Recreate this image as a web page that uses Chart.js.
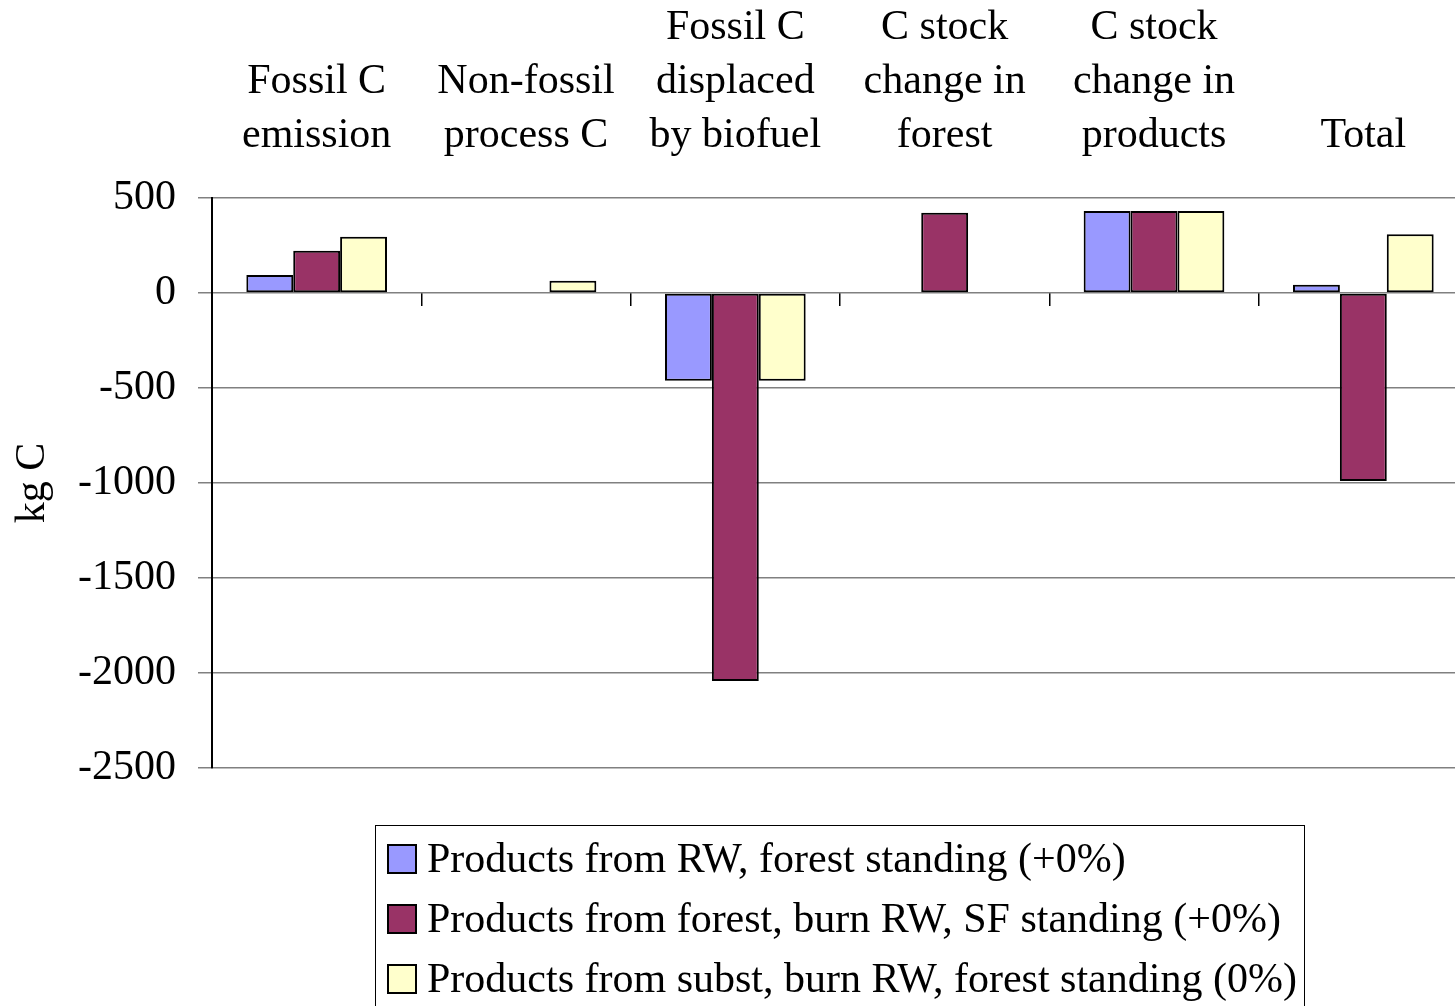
<!DOCTYPE html>
<html>
<head>
<meta charset="utf-8">
<script src="https://cdn.jsdelivr.net/npm/chart.js@4.4.1/dist/chart.umd.min.js"></script>
<style>
  html, body { margin: 0; padding: 0; background: #ffffff; overflow: hidden; }
  #wrap { position: relative; width: 1470px; height: 1006px; }
</style>
</head>
<body>
<div id="wrap"><canvas id="chart"></canvas></div>
<script>
// Carbon balance per scenario (kg C)
const categories = [
  ["Fossil C", "emission"],
  ["Non-fossil", "process C"],
  ["Fossil C", "displaced", "by biofuel"],
  ["C stock", "change in", "forest"],
  ["C stock", "change in", "products"],
  ["Total"]
];
const seriesNames = [
  "Products from RW, forest standing (+0%)",
  "Products from forest, burn RW, SF standing (+0%)",
  "Products from subst, burn RW, forest standing (0%)"
];
const rwForestStanding = [95, 0, -462, 0, 431, 44];
const forestBurnRW = [222, 0, -2042, 423, 431, -989];
const substBurnRW = [296, 65, -462, 0, 431, 309];
const yMin = -2500, yMax = 500, yStep = 500;

const FONT = "'Liberation Serif', 'Times New Roman', serif";
const colors = ["#9999FF", "#993366", "#FFFFCC"];

// Boxed legend below the plot, one entry per row
const boxedLegend = {
  id: 'boxedLegend',
  afterDraw(chart) {
    const ctx = chart.ctx;
    const left = 375.5, top = 825.5, right = 1304.5, bottom = 1040;
    ctx.save();
    ctx.strokeStyle = '#000000';
    ctx.lineWidth = 1;
    ctx.strokeRect(left, top, right - left, bottom - top);
    ctx.font = '42px ' + FONT;
    ctx.textBaseline = 'middle';
    chart.data.datasets.forEach((ds, i) => {
      const cy = 859 + i * 60;
      ctx.fillStyle = ds.backgroundColor;
      ctx.fillRect(388, cy - 14, 28, 28);
      ctx.strokeStyle = '#000000';
      ctx.lineWidth = 2;
      ctx.strokeRect(388, cy - 14, 28, 28);
      ctx.fillStyle = '#000000';
      ctx.fillText(ds.label, 427, cy + 2);
    });
    ctx.restore();
  }
};

new Chart(document.getElementById('chart'), {
  type: 'bar',
  data: {
    labels: categories,
    datasets: [
      { label: seriesNames[0], data: rwForestStanding, backgroundColor: colors[0] },
      { label: seriesNames[1], data: forestBurnRW, backgroundColor: colors[1] },
      { label: seriesNames[2], data: substBurnRW, backgroundColor: colors[2] }
    ].map(d => Object.assign(d, {
      borderColor: '#000000',
      borderWidth: 2,
      borderSkipped: false,
      categoryPercentage: 0.672,
      barPercentage: 1.0,
      xAxisID: 'x'
    }))
  },
  options: {
    responsive: true,
    maintainAspectRatio: false,
    animation: false,
    layout: { padding: { left: 0, right: 2, top: 0, bottom: 238 } },
    plugins: {
      legend: { display: false },
      tooltip: { enabled: false }
    },
    scales: {
      x: {
        type: 'category',
        position: 'top',
        offset: true,
        grid: { display: false, drawTicks: false, offset: true },
        border: { display: false },
        ticks: {
          color: '#000000',
          font: { family: FONT, size: 42, lineHeight: 1.286 },
          padding: 35,
          maxRotation: 0,
          minRotation: 0,
          autoSkip: false
        },
        afterFit(scale) { scale.height = 198; }
      },
      xZero: {
        type: 'category',
        position: { y: 0 },
        offset: true,
        grid: {
          display: true,
          offset: true,
          drawOnChartArea: false,
          drawTicks: true,
          tickLength: 13,
          color: '#000000',
          lineWidth: 1.5
        },
        border: { display: false },
        ticks: { display: false }
      },
      y: {
        type: 'linear',
        position: 'left',
        min: yMin,
        max: yMax,
        ticks: {
          stepSize: yStep,
          color: '#000000',
          font: { family: FONT, size: 42 },
          padding: 22,
          callback: v => String(v)
        },
        grid: {
          color: '#808080',
          lineWidth: 1.5,
          tickLength: 14,
          tickColor: '#808080'
        },
        border: { display: true, color: '#000000', width: 2 },
        title: {
          display: true,
          text: 'kg C',
          color: '#000000',
          font: { family: FONT, size: 42 },
          padding: { top: 8, bottom: 0 }
        },
        afterFit(scale) { scale.width = 212; }
      }
    }
  },
  plugins: [boxedLegend]
});
</script>
</body>
</html>
